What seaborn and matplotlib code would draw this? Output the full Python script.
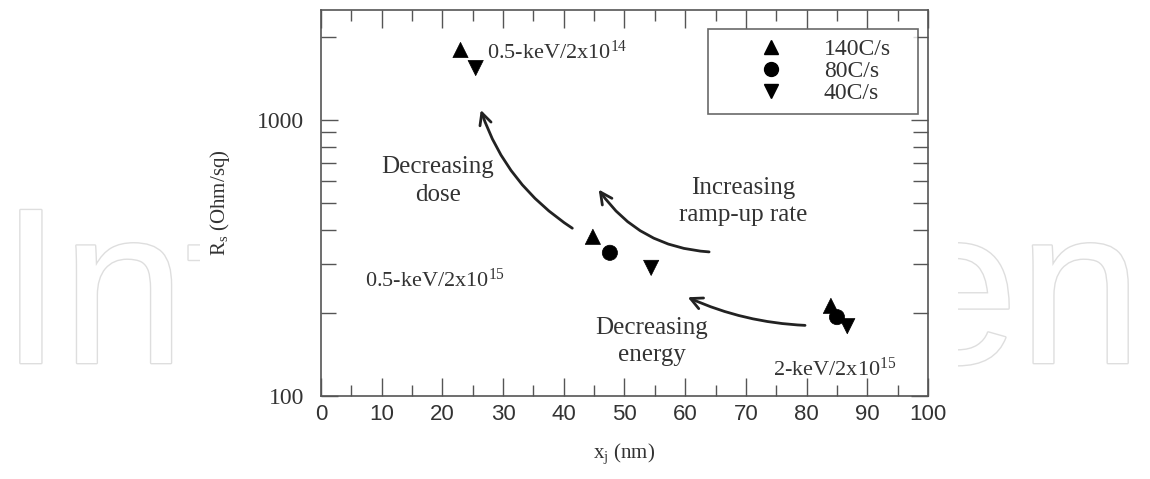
import numpy as np
import pandas as pd
import seaborn as sns
import matplotlib
matplotlib.use("Agg")
import matplotlib.pyplot as plt
import matplotlib.patheffects as pe
from matplotlib.patches import Rectangle
from matplotlib.ticker import MultipleLocator, LogLocator, NullFormatter, FixedLocator

# ---- data ----
rates = ["140C/s", "140C/s", "140C/s", "80C/s", "80C/s", "40C/s", "40C/s", "40C/s"]
xj_nm = [23.0, 44.8, 84.0, 47.6, 85.0, 25.5, 54.4, 86.7]
rs_ohm = [1790, 377, 212, 330, 193, 1540, 291, 179]
rate_order = ["140C/s", "80C/s", "40C/s"]
x_ticks = [0, 10, 20, 30, 40, 50, 60, 70, 80, 90, 100]
y_ticks = [100, 1000]

df = pd.DataFrame({"xj": xj_nm, "Rs": rs_ohm, "rate": rates})

sns.set_theme(style="white")
plt.rcParams["font.family"] = ["Liberation Serif", "DejaVu Serif"]
plt.rcParams["mathtext.fontset"] = "custom"
plt.rcParams["mathtext.rm"] = "Liberation Serif"
plt.rcParams["mathtext.it"] = "Liberation Serif"

fig = plt.figure(figsize=(11.5, 4.79), dpi=100)
fig.patch.set_facecolor("white")

# faint watermark pieces visible on both sides of the chart panel
wm = dict(va="baseline", fontsize=160, family="Liberation Sans", color="white",
          zorder=0, path_effects=[pe.withStroke(linewidth=2.0, foreground="#dedede")])
fig.text(0.0, 1 - 363 / 479, "Int", ha="left", **wm)
fig.text(1142 / 1150, 1 - 363 / 479, "en", ha="right", **wm)
fig.patches.append(Rectangle((200 / 1150, 0), 758 / 1150, 1,
                             transform=fig.transFigure, facecolor="white",
                             edgecolor="none", zorder=1))

ax = fig.add_axes([0.279, 0.1733, 0.528, 0.806])
ax.set_facecolor("white")
ax.set_zorder(2)

sns.scatterplot(data=df, x="xj", y="Rs", style="rate", style_order=rate_order,
                markers={"140C/s": "^", "80C/s": "o", "40C/s": "v"},
                color="black", s=120, edgecolor="black", linewidth=0.5,
                ax=ax, legend=False)

ax.set_yscale("log")
ax.set_xlim(0, 100)
ax.set_ylim(100, 2500)

ax.xaxis.set_major_locator(FixedLocator(x_ticks))
ax.xaxis.set_minor_locator(MultipleLocator(5))
ax.yaxis.set_major_locator(FixedLocator(y_ticks))
ax.yaxis.set_minor_locator(LogLocator(base=10, subs=np.arange(2, 10)))
ax.yaxis.set_minor_formatter(NullFormatter())
ax.set_yticklabels([str(v) for v in y_ticks])

ax.tick_params(axis="both", which="both", direction="in", top=True, right=True,
               bottom=True, left=True, color="#555555", width=1.0)
ax.tick_params(axis="x", which="major", length=13, pad=6, labelsize=16)
ax.tick_params(axis="x", which="minor", length=8)
ax.tick_params(axis="y", which="major", length=12, pad=12, labelsize=17)
ax.tick_params(axis="y", which="minor", length=11)
for lab in ax.get_xticklabels():
    lab.set_family("Liberation Sans")
    lab.set_color("#333333")
for lab in ax.get_yticklabels():
    lab.set_color("#333333")

for sp in ax.spines.values():
    sp.set_color("#555555")
    sp.set_linewidth(1.2)

ax.set_xlabel(r"x$_{\rm j}$ (nm)", fontsize=15, color="#333333", labelpad=12)
ax.set_ylabel(r"R$_{\rm s}$ (Ohm/sq)", fontsize=15, color="#333333", labelpad=18)

# legend
handles = [plt.Line2D([], [], linestyle="none", marker=m, color="black",
                      markersize=10) for m in ["^", "o", "v"]]
leg = ax.legend(handles, rate_order, loc="upper left", mode="expand",
                bbox_to_anchor=(0.6376, 0.5, 0.346, 0.45), frameon=True,
                fancybox=False, edgecolor="#444444", fontsize=17,
                handletextpad=0.0, borderpad=0.4, labelspacing=0.02,
                handlelength=4.5, borderaxespad=0)
leg.get_frame().set_linewidth(1.2)
for t in leg.get_texts():
    t.set_color("#333333")

# annotations
tc = "#333333"
ax.text(27.3, 1750, r"0.5-keV/2x10$^{14}$", fontsize=16, color=tc, va="center")
ax.text(19.3, 600, "Decreasing\ndose", fontsize=18, color=tc, ha="center",
        va="center", linespacing=1.4)
ax.text(69.6, 505, "Increasing\nramp-up rate", fontsize=18, color=tc,
        ha="center", va="center", linespacing=1.3)
ax.text(7.2, 262, r"0.5-keV/2x10$^{15}$", fontsize=16, color=tc, va="center")
ax.text(54.5, 158, "Decreasing\nenergy", fontsize=18, color=tc, ha="center",
        va="center", linespacing=1.3)
ax.text(74.5, 125, r"2-keV/2x10$^{15}$", fontsize=16, color=tc, va="center")

akw = dict(arrowstyle="->,head_length=0.7,head_width=0.35", color="#222222", lw=2)
ax.annotate("", xy=(26.2, 1110), xytext=(41.8, 400),
            arrowprops=dict(**akw, connectionstyle="arc3,rad=-0.18"))
ax.annotate("", xy=(45.5, 570), xytext=(64.4, 332),
            arrowprops=dict(**akw, connectionstyle="arc3,rad=-0.25"))
ax.annotate("", xy=(60.0, 230), xytext=(80.2, 180),
            arrowprops=dict(**akw, connectionstyle="arc3,rad=-0.1"))

fig.savefig("out.png", dpi=100, facecolor="white")
